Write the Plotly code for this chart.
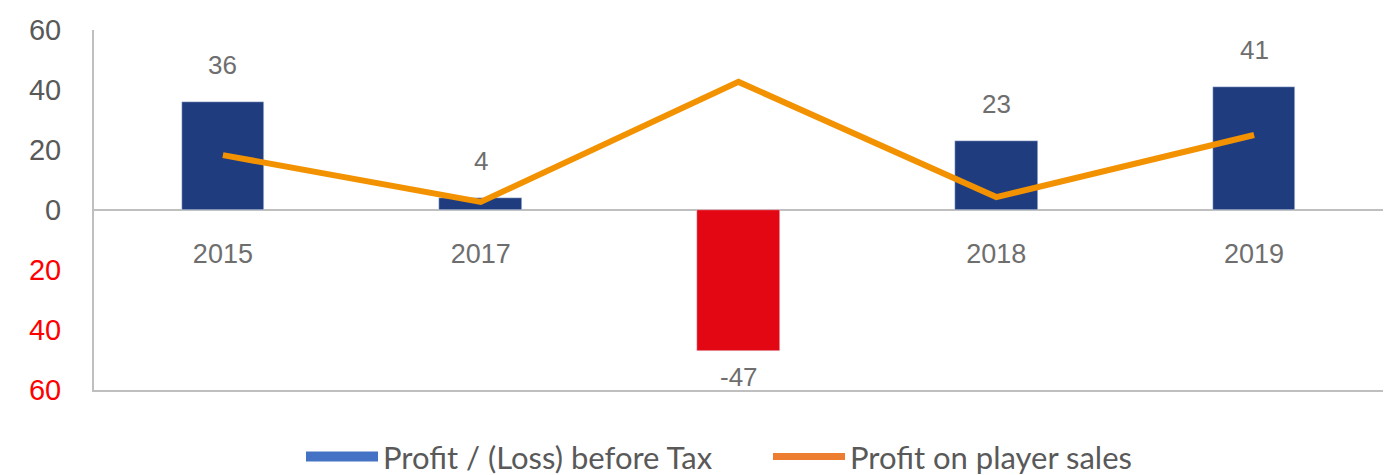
import plotly.graph_objects as go

categories = ["2015", "2017", " ", "2018", "2019"]
profit_before_tax = [36, 4, -47, 23, 41]
player_sales = [18.3, 2.7, 42.7, 4.3, 25.0]
y_tickvals = [60, 40, 20, 0, -20, -40, -60]
y_ticktext = ["60", "40", "20", "0", "<span style='color:#FF0000'>20</span>",
              "<span style='color:#FF0000'>40</span>", "<span style='color:#FF0000'>60</span>"]

bar_colors = ["#1F3C7F" if v >= 0 else "#E30613" for v in profit_before_tax]

fig = go.Figure()
fig.add_trace(go.Bar(x=categories, y=profit_before_tax, marker_color=bar_colors,
                     width=0.32, showlegend=False, xaxis="x"))
fig.add_trace(go.Scatter(x=categories, y=player_sales, mode="lines",
                         line=dict(color="#F39200", width=6), showlegend=False, xaxis="x"))
# legend entries
fig.add_trace(go.Scatter(x=[None], y=[None], mode="lines", name="Profit / (Loss) before Tax",
                         line=dict(color="#4472C4", width=19), xaxis="x"))
fig.add_trace(go.Scatter(x=[None], y=[None], mode="lines", name="Profit on player sales",
                         line=dict(color="#ED7D31", width=7), xaxis="x"))
# dummy trace for label axis
fig.add_trace(go.Scatter(x=categories, y=[0]*len(categories), mode="markers",
                         marker=dict(opacity=0), showlegend=False, hoverinfo="skip",
                         xaxis="x2"))

for i, v in enumerate(profit_before_tax):
    fig.add_annotation(x=i, y=v, text=str(v), showarrow=False,
                       yshift=37 if v >= 0 else -26,
                       font=dict(size=26, color="#6E6E6E", family="Liberation Sans"))

fig.update_layout(
    width=1386, height=475,
    margin=dict(l=94, r=3, t=30, b=85),
    plot_bgcolor="white", paper_bgcolor="white",
    bargap=0,
    font=dict(family="Liberation Sans", color="#595959"),
    xaxis=dict(type="category", categoryorder="array", categoryarray=categories,
               showline=True, linecolor="#BFBFBF", linewidth=2, showgrid=False,
               showticklabels=False, ticks="", zeroline=False, range=[-0.5, 4.5],
               automargin=False),
    xaxis2=dict(type="category", categoryorder="array", categoryarray=categories,
                overlaying="x", anchor="free", position=0.5, side="bottom",
                showline=False, showgrid=False, ticks="", range=[-0.5, 4.5],
                tickfont=dict(size=27, color="#6E6E6E"), ticklabelstandoff=25,
                automargin=False),
    yaxis=dict(range=[-60, 60], tickvals=y_tickvals, ticktext=y_ticktext,
               showgrid=False, zeroline=True, zerolinecolor="#BFBFBF", zerolinewidth=2,
               showline=True, linecolor="#BFBFBF", linewidth=2,
               tickfont=dict(size=29, color="#595959"), ticklabelstandoff=25,
               automargin=False),
    legend=dict(orientation="h", x=301 / 1386, xanchor="left", xref="container",
                y=0.038, yanchor="middle", yref="container",
                font=dict(size=31, color="#595959", family="Lato, Liberation Sans"),
                itemwidth=72, entrywidth=380, entrywidthmode="pixels",
                traceorder="normal"),
)

fig.write_html("out.html", config={"displayModeBar": False},
               post_script="document.body.style.margin='0';")
